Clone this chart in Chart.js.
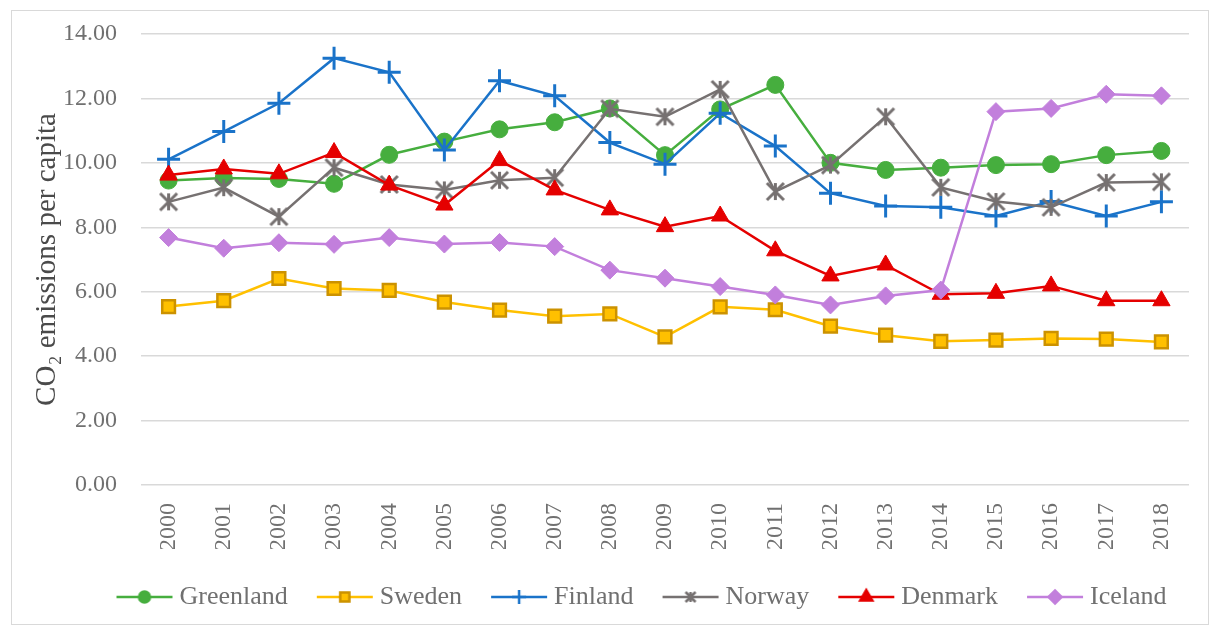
<!DOCTYPE html>
<html lang="en">
<head>
  <meta charset="UTF-8">
  <title>CO2 emissions per capita</title>
  <style>
* {
  margin: 0;
  padding: 0;
  box-sizing: border-box;
}

body {
  background: #fff;
  width: 1220px;
  height: 638px;
  overflow: hidden;
  position: relative;
}

/* thin grey frame round the whole chart */
.frame {
  position: absolute;
  left: 11px;
  top: 10px;
  width: 1198px;
  height: 615px;
  border: 1.5px solid #D9D9D9;
  pointer-events: none;
}

#co2Chart {
  position: absolute;
  left: 0;
  top: 0;
}
  </style>
  <script src="https://cdn.jsdelivr.net/npm/chart.js@4/dist/chart.umd.min.js"></script>
</head>
<body>
  <canvas id="co2Chart" width="1220" height="638"></canvas>
  <div class="frame"></div>

  <script>
// Data
const years = ['2000', '2001', '2002', '2003', '2004', '2005', '2006', '2007', '2008', '2009',
  '2010', '2011', '2012', '2013', '2014', '2015', '2016', '2017', '2018'];
const greenland = [9.45, 9.53, 9.50, 9.35, 10.25, 10.66, 11.04, 11.26, 11.69, 10.24,
  11.66, 12.42, 10.00, 9.78, 9.85, 9.93, 9.96, 10.24, 10.37];
const sweden = [5.54, 5.72, 6.41, 6.10, 6.04, 5.68, 5.43, 5.24, 5.31, 4.60,
  5.53, 5.44, 4.93, 4.65, 4.46, 4.50, 4.55, 4.53, 4.44];
const finland = [10.11, 10.97, 11.85, 13.25, 12.81, 10.40, 12.55, 12.08, 10.63, 9.96,
  11.54, 10.52, 9.06, 8.66, 8.62, 8.35, 8.80, 8.35, 8.79];
const norway = [8.79, 9.23, 8.33, 9.85, 9.33, 9.16, 9.46, 9.54, 11.68, 11.43,
  12.28, 9.11, 9.93, 11.43, 9.24, 8.80, 8.62, 9.39, 9.41];
const denmark = [9.62, 9.81, 9.66, 10.32, 9.31, 8.69, 10.07, 9.16, 8.54, 8.02,
  8.35, 7.27, 6.49, 6.83, 5.92, 5.95, 6.18, 5.72, 5.72];
const iceland = [7.68, 7.35, 7.52, 7.47, 7.68, 7.48, 7.53, 7.40, 6.67, 6.42,
  6.16, 5.90, 5.59, 5.87, 6.05, 11.59, 11.69, 12.13, 12.08];
const yTicks = [0, 2, 4, 6, 8, 10, 12, 14];

const FONT = "'Liberation Serif', 'DejaVu Serif', serif";
const TEXT = '#707070';

// Excel style star: an X with a vertical bar through it
function makeStar(size, color, lw) {
  const c = document.createElement('canvas');
  c.width = size;
  c.height = size;
  const ctx = c.getContext('2d');
  const m = size / 2, a = size / 2 - 2;
  ctx.strokeStyle = color;
  ctx.lineWidth = lw;
  ctx.beginPath();
  ctx.moveTo(m - a, m - a); ctx.lineTo(m + a, m + a);
  ctx.moveTo(m + a, m - a); ctx.lineTo(m - a, m + a);
  ctx.moveTo(m, m - a); ctx.lineTo(m, m + a);
  ctx.stroke();
  return c;
}

// series look: line colour, marker style, marker fill/border, sizes
const series = [
  { label: 'Greenland', data: greenland, color: '#46AE3E', style: 'circle', fill: '#46AE3E', border: '#46AE3E', r: 8.5, lr: 5.5 },
  { label: 'Sweden', data: sweden, color: '#FFC000', style: 'rect', fill: '#FFC000', border: '#CC9200', r: 9, lr: 6.5 },
  { label: 'Finland', data: finland, color: '#1A73C9', style: 'cross', fill: '#1A73C9', border: '#1A73C9', r: 11.5, lr: 7 },
  { label: 'Norway', data: norway, color: '#767171', style: makeStar(21, '#767171', 3), fill: '#767171', border: '#767171', r: 9, lr: 6 },
  { label: 'Denmark', data: denmark, color: '#E50000', style: 'triangle', fill: '#E50000', border: '#E50000', r: 10, lr: 7 },
  { label: 'Iceland', data: iceland, color: '#C27FDC', style: 'rectRot', fill: '#C27FDC', border: '#C27FDC', r: 9, lr: 6.5 }
];

// legend swatch: short line with the marker in the middle
function makeSwatch(s) {
  const c = document.createElement('canvas');
  c.width = 64;
  c.height = 24;
  const ctx = c.getContext('2d');
  ctx.strokeStyle = s.color;
  ctx.lineWidth = 2.5;
  ctx.beginPath();
  ctx.moveTo(4, 12);
  ctx.lineTo(60, 12);
  ctx.stroke();
  if (typeof s.style !== 'string') {
    ctx.drawImage(makeStar(14, s.color, 2.5), 25, 5);
    return c;
  }
  ctx.fillStyle = s.fill;
  ctx.strokeStyle = s.border;
  Chart.helpers.drawPoint(ctx, {
    pointStyle: s.style,
    rotation: 0,
    radius: s.lr,
    borderWidth: s.style === 'cross' ? 2.5 : (s.style === 'rect' ? 2 : 1)
  }, 32, 12);
  return c;
}
const swatches = series.map(makeSwatch);

const datasets = series.map((s, i) => ({
  label: s.label,
  data: s.data,
  borderColor: s.color,
  backgroundColor: s.fill,
  borderWidth: 2.5,
  pointStyle: s.style,
  pointRadius: s.r,
  pointHoverRadius: s.r,
  pointBackgroundColor: s.fill,
  pointBorderColor: s.border,
  pointBorderWidth: s.style === 'cross' ? 3 : (s.style === 'rect' ? 2.5 : 1),
  tension: 0,
  fill: false,
  order: series.length - i   // later series drawn on top
}));

// move the legend a bit to the right, like the original
const legendShift = {
  id: 'legendShift',
  afterLayout(chart) {
    chart.legend.left += 35;
    chart.legend.right += 35;
  }
};

new Chart(document.getElementById('co2Chart'), {
  type: 'line',
  data: { labels: years, datasets },
  plugins: [legendShift],
  options: {
    responsive: false,
    animation: false,
    layout: { padding: { left: 30, right: 31, top: 34, bottom: 18 } },
    plugins: {
      tooltip: { enabled: false },
      legend: {
        position: 'bottom',
        labels: {
          usePointStyle: true,
          pointStyleWidth: 44,
          padding: 35,
          color: TEXT,
          font: { family: FONT, size: 26 },
          sort: (a, b) => a.datasetIndex - b.datasetIndex,
          generateLabels(chart) {
            const items = Chart.defaults.plugins.legend.labels.generateLabels(chart);
            items.forEach(it => { it.pointStyle = swatches[it.datasetIndex]; });
            return items;
          }
        }
      }
    },
    scales: {
      x: {
        offset: true,
        grid: { display: false },
        border: { display: false },
        ticks: {
          autoSkip: false,
          minRotation: 90,
          maxRotation: 90,
          padding: 10,
          color: TEXT,
          font: { family: FONT, size: 24 }
        },
        afterFit(scale) { scale.height = 64; }
      },
      y: {
        min: 0,
        max: 14,
        afterBuildTicks(scale) { scale.ticks = yTicks.map(v => ({ value: v })); },
        grid: { color: '#D9D9D9', lineWidth: 1.5, drawTicks: true, tickLength: 21, tickColor: 'rgba(0,0,0,0)' },
        border: { display: false },
        ticks: {
          padding: 3,
          color: TEXT,
          font: { family: FONT, size: 24 },
          callback: v => v.toFixed(2)
        },
        title: {
          display: true,
          text: 'CO₂ emissions per capita',
          color: '#4A4A4A',
          font: { family: FONT, size: 29 },
          padding: 0
        },
        afterFit(scale) { scale.width = 111; }
      }
    }
  }
});
  </script>
</body>
</html>
